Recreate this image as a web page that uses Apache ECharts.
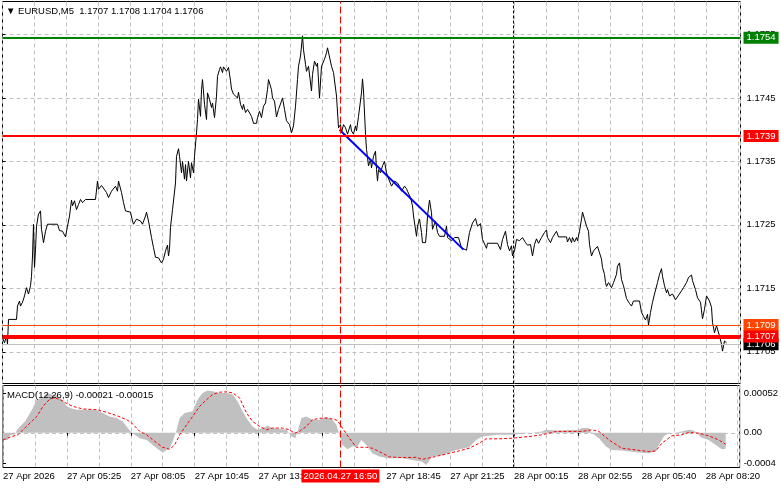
<!DOCTYPE html>
<html>
<head>
<meta charset="utf-8">
<script src="https://cdn.jsdelivr.net/npm/echarts@6.0.0/dist/echarts.min.js"></script>
<style>
  html, body { margin: 0; padding: 0; background: #fff; }
  #chart { width: 781px; height: 489px; }
</style>
</head>
<body>
<div id="chart"></div>
<script>
  // price line vertices: bar index (5 min bars from 27 Apr 02:45) and close
  var priceBar = [0, 1, 2, 2.5, 3, 7, 7.5, 8.5, 9, 10, 11, 12, 13, 14, 14.5, 15, 15.5, 16, 16.5, 17, 18, 19, 19.5, 20.5, 21.5, 22.5, 27.5, 28.5, 30, 31.5,
    32.5, 33.5, 34.5, 35, 36, 37, 38, 39, 40, 41.5, 46.5, 47.5, 48, 49.5, 50.5, 52, 53, 54.5, 55.5, 56.5, 57.5, 58, 59.5, 60.5, 61.5, 64, 65, 65.5, 67, 68,
    69, 70, 71.5, 72, 73, 74.5, 75.5, 76.5, 78, 79.5, 80.5, 81.5, 82.5, 83, 83.5, 84, 85, 86.5, 87, 88, 88.5, 89.5, 90, 91, 91.5, 92, 93, 94, 94.5, 95.5,
    96, 97, 97.5, 98, 99, 99.5, 100, 101, 102, 102.5, 103.5, 104.5, 105, 106, 107, 107.5, 108.5, 109, 110, 110.5, 112, 113, 114, 114.5, 115.5, 116.5,
    117.5, 118, 119, 120, 120.5, 121.5, 122.5, 123.5, 124.5, 125.5, 127, 127.5, 128.5, 129.5, 130.5, 131.5, 132.5, 133, 134.5, 135, 136, 137, 138, 139.5,
    140, 141, 142, 143.5, 144.5, 145.5, 146.5, 147.5, 148, 149, 150, 150.5, 151.5, 152, 153, 153.5, 154.5, 155, 156, 157, 157.5, 158.5, 159.5, 160, 161,
    162, 162.5, 163.5, 164.5, 165.5, 167, 168, 169, 169.5, 170.5, 171.5, 172.5, 174, 174.5, 175.5, 176.5, 177, 178, 179.5, 180, 180.5, 181.5, 182, 183,
    184, 184.5, 185.5, 186.5, 187, 187.5, 188, 189, 190, 191, 192, 192.5, 194.5, 196, 197.5, 198.5, 199.5, 201, 202, 202.5, 204, 205, 205.5, 206, 207,
    207.5, 208.5, 209.5, 210, 211.5, 212, 212.5, 213.5, 214.5, 215, 216.5, 217.5, 218.5, 221, 222, 222.5, 224.5, 226, 228, 229.5, 232, 233.5, 235, 236.5,
    237.5, 239, 240, 242, 242.5, 247.5, 249, 250, 251.5, 252.5, 253.5, 254.5, 255, 256, 257, 257.5, 258.5, 260, 261.5, 262.5, 264, 265, 266, 267, 268,
    269.5, 271, 272, 272.5, 274, 275, 277, 278, 282, 282.5, 283.5, 284.5, 285, 286, 287, 287.5, 288.5, 289.5, 290, 291, 292, 293, 293.5, 294.5, 295.5,
    296.5, 297.5, 298.5, 299.5, 300, 301, 301.5, 302, 303, 304.5, 305.5, 307, 307.5, 308.5, 309.5, 310.5, 312, 313.5, 314.5, 315.5, 318.5, 319.5, 320.5,
    321.5, 322.5, 323, 324, 325, 326, 327.5, 328.5, 329.5, 330, 331, 332, 332.5, 333.5, 335, 336.5, 337.5, 339.5, 340.5, 342, 343, 344.5, 345, 346.5,
    347.5, 349, 350, 351, 352, 352.5, 353.5, 354.5, 355, 356, 357, 357.5, 358.5, 359.5, 360, 361, 362];
  var priceVal = [1.17072, 1.17064, 1.17076, 1.17062, 1.17101, 1.17101, 1.17122, 1.17130, 1.17122, 1.17128, 1.17138, 1.17151, 1.17141, 1.17154, 1.17169,
    1.17201, 1.17251, 1.17183, 1.17211, 1.17248, 1.17267, 1.17272, 1.17243, 1.17222, 1.17240, 1.17251, 1.17251, 1.17241, 1.17240, 1.17231,
    1.17248, 1.17264, 1.17289, 1.17280, 1.17288, 1.17274, 1.17282, 1.17290, 1.17285, 1.17290, 1.17290, 1.17319, 1.17306, 1.17312, 1.17309, 1.17301,
    1.17293, 1.17303, 1.17301, 1.17311, 1.17303, 1.17319, 1.17301, 1.17285, 1.17272, 1.17270, 1.17256, 1.17251, 1.17259, 1.17260,
    1.17256, 1.17251, 1.17264, 1.17270, 1.17256, 1.17230, 1.17214, 1.17199, 1.17198, 1.17190, 1.17196, 1.17209, 1.17218, 1.17201, 1.17211, 1.17246,
    1.17274, 1.17316, 1.17358, 1.17370, 1.17358, 1.17332, 1.17350, 1.17322, 1.17345, 1.17319, 1.17350, 1.17324, 1.17348, 1.17332,
    1.17358, 1.17395, 1.17416, 1.17448, 1.17421, 1.17463, 1.17479, 1.17440, 1.17416, 1.17458, 1.17448, 1.17435, 1.17442, 1.17419, 1.17453, 1.17484,
    1.17495, 1.17499, 1.17490, 1.17499, 1.17492, 1.17498, 1.17477, 1.17464, 1.17456, 1.17459,
    1.17450, 1.17459, 1.17440, 1.17432, 1.17440, 1.17427, 1.17432, 1.17429, 1.17421, 1.17410, 1.17410, 1.17419, 1.17429, 1.17419, 1.17437, 1.17442,
    1.17463, 1.17479, 1.17463, 1.17450, 1.17445, 1.17420, 1.17432, 1.17445,
    1.17450, 1.17432, 1.17414, 1.17408, 1.17395, 1.17406, 1.17437, 1.17479, 1.17500, 1.17516, 1.17548, 1.17526, 1.17503, 1.17492, 1.17500, 1.17503,
    1.17461, 1.17487, 1.17508, 1.17500, 1.17505, 1.17450, 1.17500, 1.17500, 1.17511,
    1.17521, 1.17529, 1.17529, 1.17500, 1.17490, 1.17453, 1.17403, 1.17408, 1.17395, 1.17408, 1.17403, 1.17393, 1.17408, 1.17398, 1.17393, 1.17406,
    1.17398, 1.17421, 1.17458, 1.17480, 1.17461, 1.17393, 1.17369, 1.17343,
    1.17353, 1.17340, 1.17358, 1.17366, 1.17337, 1.17319, 1.17337, 1.17332, 1.17343, 1.17350, 1.17332, 1.17327, 1.17311, 1.17319, 1.17316, 1.17311,
    1.17303, 1.17311, 1.17307, 1.17303, 1.17293, 1.17280, 1.17264, 1.17261, 1.17232,
    1.17248, 1.17259, 1.17238, 1.17222, 1.17222, 1.17238, 1.17264, 1.17289, 1.17269, 1.17243, 1.17256, 1.17238, 1.17232, 1.17232, 1.17248, 1.17230,
    1.17225, 1.17230, 1.17230, 1.17214, 1.17210, 1.17238, 1.17253, 1.17260,
    1.17248, 1.17252, 1.17227, 1.17213, 1.17221, 1.17221, 1.17211, 1.17227, 1.17240, 1.17219, 1.17209, 1.17217, 1.17201, 1.17209, 1.17227, 1.17230,
    1.17225, 1.17230, 1.17222, 1.17218, 1.17219, 1.17201, 1.17219, 1.17228, 1.17221,
    1.17230, 1.17238, 1.17242, 1.17230, 1.17222, 1.17230, 1.17240, 1.17231, 1.17231, 1.17223, 1.17230, 1.17222, 1.17230, 1.17223, 1.17230, 1.17225,
    1.17240, 1.17259, 1.17270, 1.17259, 1.17248, 1.17240, 1.17219, 1.17201, 1.17209,
    1.17210, 1.17216, 1.17219, 1.17196, 1.17183, 1.17172, 1.17159, 1.17153, 1.17159, 1.17151, 1.17159, 1.17172, 1.17185, 1.17190, 1.17164, 1.17154,
    1.17134, 1.17126, 1.17122, 1.17130, 1.17130, 1.17112, 1.17106,
    1.17100, 1.17109, 1.17092, 1.17112, 1.17128, 1.17141, 1.17159, 1.17172, 1.17181, 1.17169, 1.17154, 1.17143, 1.17148, 1.17138, 1.17141, 1.17132,
    1.17135, 1.17146, 1.17151, 1.17159, 1.17167, 1.17171, 1.17162, 1.17148,
    1.17135, 1.17128, 1.17102, 1.17117, 1.17138, 1.17141, 1.17130, 1.17120, 1.17096, 1.17080, 1.17091, 1.17091, 1.17075, 1.17062, 1.17051, 1.17067, 1.17064];

  var trendBar = [168.5, 230.5];
  var trendVal = [1.17400, 1.17211];

  // horizontal levels (bid line first so the others sit on top)
  var levelVal = [1.17062, 1.17545, 1.17390, 1.17092, 1.17074];
  var levelText = ['1.1706', '1.1754', '1.1739', '1.1709', '1.1707'];
  var levelColor = ['#c0c0c0', '#008000', '#ff0000', '#ff4500', '#ff0000'];
  var levelBox = ['#000000', '#008000', '#ff0000', '#ff4500', '#ff0000'];
  var levelWidth = [1, 2, 2, 1, 4];

  var priceTicks = [1.1705, 1.1715, 1.1725, 1.1735, 1.1745, 1.1755];
  var priceTickText = ['1.1705', '1.1715', '1.1725', '1.1735', '1.1745', '1.1755'];

  var timeTicks = [0, 32, 64, 96, 128, 160, 192, 224, 256, 288, 320, 352];
  var timeText = ['27 Apr 2026', '27 Apr 05:25', '27 Apr 08:05', '27 Apr 10:45', '27 Apr 13:25', '27 Apr 16:05',
    '27 Apr 18:45', '27 Apr 21:25', '28 Apr 00:15', '28 Apr 02:55', '28 Apr 05:40', '28 Apr 08:20'];

  var cursorBar = 169;
  var cursorText = '2026.04.27 16:50';
  var dayBreakBar = 255.5;

  var macdBar = [0, 2.5, 3.5, 6, 7, 8.5, 11, 14.5, 17, 19.5, 22, 24.5, 27, 29.5, 32, 33.5, 37, 42, 47, 50, 53.5, 57, 60, 62.5, 64.5, 65, 68.5, 72, 75,
    78.5, 80, 83.5, 85, 87, 88.5, 91, 95, 97.5, 100, 102.5, 105, 108.5, 112.5, 115, 117.5, 120, 122.5, 125, 127.5, 130, 132.5, 135, 138.5, 142,
    144.5, 146.5, 147.5, 149.5, 152, 155, 158.5, 162, 165, 167, 168.5, 170, 172.5, 175, 177.5, 179.5, 182, 185, 188.5, 192.5, 200, 210, 212, 215,
    220, 227, 233.5, 237, 240, 247, 255, 260, 270, 272, 277, 288.5, 290, 293.5, 295, 298.5, 302, 305, 310, 318.5, 323.5, 327, 328.5, 331, 333.5,
    337, 340, 343.5, 346, 347.5, 349.5, 353.5, 357, 360, 362];
  var macdVal = [-0.000093, -0.000093, -0.000026, -0.000026, 0.000040, 0.000084, 0.000150, 0.000304, 0.000437, 0.000459, 0.000525, 0.000503,
    0.000489, 0.000437, 0.000348, 0.000326, 0.000304, 0.000304, 0.000295, 0.000260, 0.000216, 0.000194, 0.000150, 0.000062, 0, -0.000026,
    -0.000071, -0.000093, -0.000159, -0.000234, -0.000260, -0.000203, -0.000115, 0.000040, 0.000194, 0.000260, 0.000282, 0.000437, 0.000525,
    0.000556, 0.000547, 0.000525, 0.000525, 0.000503, 0.000414, 0.000282, 0.000172, 0.000084, 0.000040, 0.000062, 0.000093, 0.000062, 0.000049,
    0.000040, -0.000049, -0.000071, 0.000018, 0.000194, 0.000216, 0.000172, 0.000172, 0.000207, 0.000172, 0.000106, -0.000026, -0.000159,
    -0.000216, -0.000181, -0.000181, -0.000093, -0.000159, -0.000269, -0.000313, -0.000335, -0.000335, -0.000379, -0.000423, -0.000313,
    -0.000291, -0.000225, -0.000190, -0.000093, -0.000049, -0.000026, -0.000026, -0.000013, 0.000018, 0.000040, 0.000031, 0.000040, 0.000062,
    0.000062, -0.000004, -0.000071, -0.000181, -0.000225, -0.000234, -0.000260, -0.000269, -0.000247, -0.000159, -0.000049, -0.000004,
    0.000004, 0.000018, 0.000040, 0.000031, -0.000004, -0.000057, -0.000093, -0.000159, -0.000216, -0.000210];

  var signalBar = [0, 3.5, 7.5, 10, 13.5, 17, 20, 23.5, 26, 28.5, 32, 35, 40, 47, 52, 57, 62, 64.5, 68.5, 72, 75, 80, 83.5, 86, 88.5, 92, 95, 98.5,
    102, 105, 108.5, 112, 115, 118.5, 122, 125, 128.5, 132, 135, 140, 143.5, 146, 148.5, 152, 155, 158.5, 162.5, 165, 167.5, 170, 173.5, 177, 182,
    185, 188.5, 193.5, 200, 207, 210, 215, 220, 227, 233.5, 238.5, 242, 248.5, 255, 263.5, 270, 277, 283.5, 290, 295, 298.5, 303.5, 310, 317,
    323.5, 327, 330, 335, 340, 343.5, 348.5, 353.5, 358.5, 362];
  var signalVal = [-0.000093, -0.000057, -0.000026, 0.000040, 0.000128, 0.000216, 0.000348, 0.000445, 0.000459, 0.000437, 0.000384, 0.000348,
    0.000313, 0.000304, 0.000269, 0.000225, 0.000172, 0.000128, 0.000018, -0.000026, -0.000093, -0.000190, -0.000216, -0.000159, -0.000026,
    0.000106, 0.000216, 0.000348, 0.000437, 0.000503, 0.000534, 0.000538, 0.000525, 0.000459, 0.000260, 0.000150, 0.000084, 0.000040, 0.000062,
    0.000062, 0.000040, -0.000004, 0.000018, 0.000084, 0.000172, 0.000190, 0.000194, 0.000181, 0.000163, 0.000062, -0.000071, -0.000190,
    -0.000190, -0.000203, -0.000247, -0.000317, -0.000326, -0.000322, -0.000348, -0.000322, -0.000291, -0.000247, -0.000203, -0.000137,
    -0.000079, -0.000079, -0.000071, -0.000049, -0.000026, 0.000018, 0.000018, 0.000018, 0.000040, 0.000018, -0.000093, -0.000203, -0.000225,
    -0.000247, -0.000238, -0.000137, -0.000040, -0.000026, 0.000004, -0.000004, -0.000040, -0.000093, -0.000150];

  var macdTicks = [-0.0004, 0, 0.00052];
  var macdTickText = ['-0.0004', '0.00', '0.00052'];

  var header = '\u25BC EURUSD,M5  1.1707 1.1708 1.1704 1.1706';
  var macdHeader = 'MACD(12,26,9) -0.00021 -0.00015';

  var FONT = 'Liberation Sans';
  var GRIDLINE = { color: '#c0c0c0', type: [4, 3], width: 1 };

  function pairs(xs, ys) {
    return xs.map(function (x, i) { return [x, ys[i]]; });
  }
  function lookup(ticks, texts) {
    return function (v) {
      for (var i = 0; i < ticks.length; i++) {
        if (Math.abs(ticks[i] - v) < 1e-9) return texts[i];
      }
      return '';
    };
  }

  function levelLines() {
    return levelVal.map(function (v, i) {
      return {
        yAxis: v,
        lineStyle: { color: levelColor[i], width: levelWidth[i], type: 'solid' },
        label: {
          show: true, position: 'end', distance: 3, formatter: levelText[i],
          color: '#fff', backgroundColor: levelBox[i], padding: [1, 3, 1, 3],
          fontSize: 9.5, fontFamily: FONT, lineHeight: 10
        }
      };
    });
  }
  function dayBreakLine() {
    return {
      xAxis: dayBreakBar,
      lineStyle: { color: '#000', width: 1, type: [3, 2] },
      label: { show: false }
    };
  }
  function cursorLine(withLabel) {
    return {
      xAxis: cursorBar,
      lineStyle: { color: '#ff0000', width: 1, type: [7, 3] },
      label: withLabel ? {
        show: true, position: 'start', distance: 2, formatter: cursorText,
        color: '#fff', backgroundColor: '#ff0000', padding: [2, 2, 1, 2],
        fontSize: 9.5, fontFamily: FONT
      } : { show: false }
    };
  }

  var chart = echarts.init(document.getElementById('chart'));
  chart.setOption({
    animation: false,
    backgroundColor: '#fff',
    textStyle: { fontFamily: FONT },
    title: [
      { text: header, left: 6, top: 6, padding: 0,
        textStyle: { fontSize: 9.5, fontWeight: 'normal', color: '#000', fontFamily: FONT } },
      { text: macdHeader, left: 7, top: 390, padding: 0,
        textStyle: { fontSize: 9.5, fontWeight: 'normal', color: '#000', fontFamily: FONT } }
    ],
    grid: [
      { left: 2.5, right: 40.5, top: 1.5, height: 382, show: true, borderColor: '#000', borderWidth: 1, backgroundColor: '#fff' },
      { left: 2.5, right: 40.5, top: 385.5, height: 82, show: true, borderColor: '#000', borderWidth: 1, backgroundColor: '#fff' }
    ],
    xAxis: [
      { gridIndex: 0, type: 'value', min: 0, max: 369, interval: 16,
        axisLine: { show: false }, axisTick: { show: false }, axisLabel: { show: false },
        splitLine: { show: true, lineStyle: GRIDLINE } },
      { gridIndex: 1, type: 'value', position: 'top', min: 0, max: 369, interval: 16,
        axisLine: { show: false }, axisTick: { show: false }, axisLabel: { show: false },
        splitLine: { show: true, lineStyle: GRIDLINE } },
      { gridIndex: 1, type: 'value', position: 'bottom', min: 0, max: 369,
        axisLine: { show: false },
        axisTick: { show: true, customValues: timeTicks, length: 3, lineStyle: { color: '#000' } },
        axisLabel: { customValues: timeTicks, formatter: lookup(timeTicks, timeText), align: 'left',
          margin: 4, fontSize: 9.5, color: '#000', fontFamily: FONT },
        splitLine: { show: false } }
    ],
    yAxis: [
      { gridIndex: 0, type: 'value', position: 'right', min: 1.17, max: 1.17602,
        axisLine: { show: false },
        axisTick: { show: true, customValues: priceTicks, length: 3, lineStyle: { color: '#000' } },
        axisLabel: { customValues: priceTicks, formatter: lookup(priceTicks, priceTickText),
          margin: 6, fontSize: 9.5, color: '#000', fontFamily: FONT },
        splitLine: { show: true, lineStyle: GRIDLINE } },
      { gridIndex: 1, type: 'value', position: 'right', min: -0.000456, max: 0.000622,
        axisLine: { show: false },
        axisTick: { show: true, customValues: macdTicks, length: 3, lineStyle: { color: '#000' } },
        axisLabel: { customValues: macdTicks, formatter: lookup(macdTicks, macdTickText),
          margin: 4, fontSize: 9.5, color: '#000', fontFamily: FONT },
        splitLine: { show: false } },
      { gridIndex: 1, type: 'value', position: 'left', min: -0.000456, max: 0.000622,
        axisLine: { show: false },
        axisTick: { show: false, customValues: [0] },
        axisLabel: { show: false },
        splitLine: { show: true, lineStyle: GRIDLINE } }
    ],
    series: [
      { name: 'EURUSD', type: 'line', xAxisIndex: 0, yAxisIndex: 0,
        data: pairs(priceBar, priceVal), symbol: 'none', z: 3,
        lineStyle: { color: '#000', width: 1 },
        markLine: { symbol: ['none', 'none'], silent: true, animation: false, precision: 6,
          data: [dayBreakLine(), cursorLine(false)].concat(levelLines()) } },
      { name: 'trend', type: 'line', xAxisIndex: 0, yAxisIndex: 0,
        data: pairs(trendBar, trendVal), symbol: 'none', z: 4,
        lineStyle: { color: '#0000ff', width: 2 } },
      { name: 'MACD', type: 'line', xAxisIndex: 1, yAxisIndex: 1,
        data: pairs(macdBar, macdVal), symbol: 'none',
        lineStyle: { width: 0 },
        areaStyle: { color: '#c0c0c0', opacity: 1, origin: 0 },
        markLine: { symbol: ['none', 'none'], silent: true, animation: false, precision: 6,
          data: [dayBreakLine(), cursorLine(true)] } },
      { name: 'Signal', type: 'line', xAxisIndex: 1, yAxisIndex: 1,
        data: pairs(signalBar, signalVal), symbol: 'none', z: 3,
        lineStyle: { color: '#ff0000', width: 1, type: [3, 2] } }
    ]
  });
</script>
</body>
</html>
